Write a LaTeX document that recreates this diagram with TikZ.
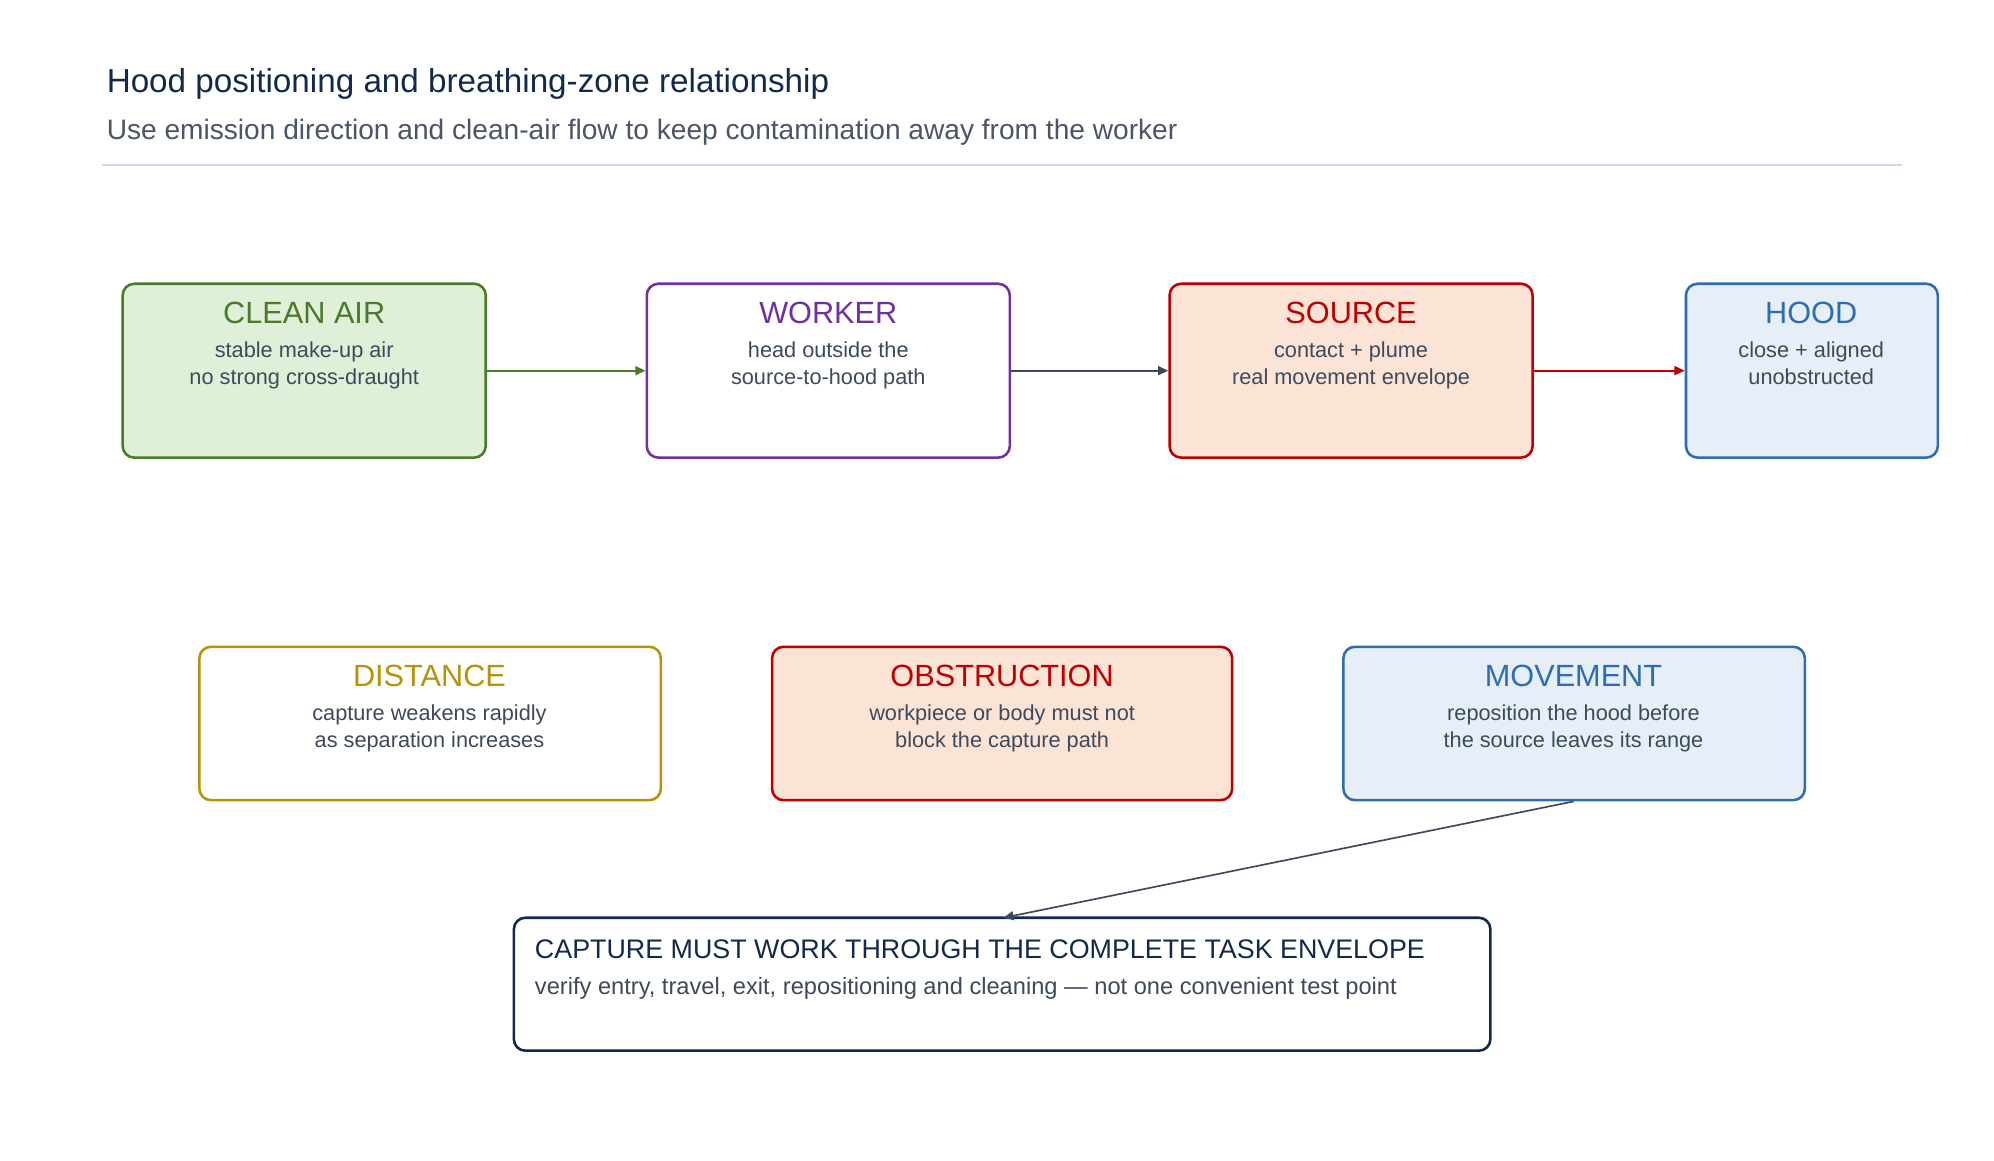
\documentclass[tikz,border=0pt]{standalone}
\usepackage{fontspec}
\setmainfont{Liberation Sans}
\usetikzlibrary{arrows.meta}
\definecolor{navy}{HTML}{13294B}
\definecolor{sub}{HTML}{4A5568}
\definecolor{body}{HTML}{3D4A5C}
\definecolor{grn}{HTML}{4A7A2A}\definecolor{grnf}{HTML}{E0F0D8}
\definecolor{pur}{HTML}{7030A0}
\definecolor{red}{HTML}{C00000}\definecolor{redf}{HTML}{FBE3D6}
\definecolor{blu}{HTML}{2E6DB4}\definecolor{bluf}{HTML}{E6EFF7}
\definecolor{gold}{HTML}{B8920A}
\definecolor{rule}{HTML}{D0D8F0}
\tikzset{
 box/.style={draw=#1,line width=2pt,rounded corners=9pt},
 hd/.style={font=\fontsize{24}{28}\selectfont,text=#1,anchor=center},
 bd/.style={font=\fontsize{17}{21}\selectfont,text=body,align=center,anchor=north},
 arr/.style={draw=#1,line width=1.6pt,-{Triangle[length=8pt,width=7pt]}}
}
\begin{document}
\begin{tikzpicture}[x=1pt,y=-1pt]
\useasboundingbox (0,0) rectangle (1560,908);
\node[anchor=base west,text=navy,font=\fontsize{26}{30}\selectfont] (t) at (80,72) {Hood positioning and breathing-zone relationship};
\node[anchor=base west,text=sub,font=\fontsize{22}{26}\selectfont] (s) at (80,109) {Use emission direction and clean-air flow to keep contamination away from the worker};
\draw[rule,line width=1.2pt] (80,129) -- (1488,129);
% row 1
\draw[box=grn,fill=grnf] (96,222) rectangle (380,358); \coordinate (ca) at (238,290);
\node[hd=grn] (cah) at (238,245) {CLEAN AIR};
\node[bd] (cab) at (238,264) {stable make-up air\\no strong cross-draught};
\draw[box=pur,fill=white] (506,222) rectangle (790,358);
\node[hd=pur] (wh) at (648,245) {WORKER};
\node[bd] (wb) at (648,264) {head outside the\\source-to-hood path};
\draw[box=red,fill=redf] (915,222) rectangle (1199,358);
\node[hd=red] (sh) at (1057,245) {SOURCE};
\node[bd] (sb) at (1057,264) {contact + plume\\real movement envelope};
\draw[box=blu,fill=bluf] (1319,222) rectangle (1516,358);
\node[hd=blu] (hh) at (1417,245) {HOOD};
\node[bd] (hb) at (1417,264) {close + aligned\\unobstructed};
\coordinate (a1) at (381,290); \coordinate (a2) at (505,290);
\coordinate (a3) at (791,290); \coordinate (a4) at (914,290);
\coordinate (a5) at (1200,290); \coordinate (a6) at (1318,290);
\draw[arr=grn] (a1) -- (a2);
\draw[arr=body] (a3) -- (a4);
\draw[arr=red] (a5) -- (a6);
% row 2
\draw[box=gold,fill=white] (156,506) rectangle (517,626);
\node[hd=gold] (dh) at (336,529) {DISTANCE};
\node[bd] (db) at (336,548) {capture weakens rapidly\\as separation increases};
\draw[box=red,fill=redf] (604,506) rectangle (964,626);
\node[hd=red] (oh) at (784,529) {OBSTRUCTION};
\node[bd] (ob) at (784,548) {workpiece or body must not\\block the capture path};
\draw[box=blu,fill=bluf] (1051,506) rectangle (1412,626);
\node[hd=blu] (mh) at (1231,529) {MOVEMENT};
\node[bd] (mb) at (1231,548) {reposition the hood before\\the source leaves its range};
% final
\draw[box=navy,fill=white] (402,718) rectangle (1166,822);
\node[anchor=base west,text=navy,font=\fontsize{21}{25}\selectfont] (fh) at (415,750) {CAPTURE MUST WORK THROUGH THE COMPLETE TASK ENVELOPE};
\node[anchor=base west,text=body,font=\fontsize{18.5}{22}\selectfont] (fb) at (415,778) {verify entry, travel, exit, repositioning and cleaning — not one convenient test point};
\coordinate (m) at (1231,627); \coordinate (f) at (785,718);
\draw[arr=body,line width=1.3pt] (m) -- (f);
\end{tikzpicture}
\end{document}
